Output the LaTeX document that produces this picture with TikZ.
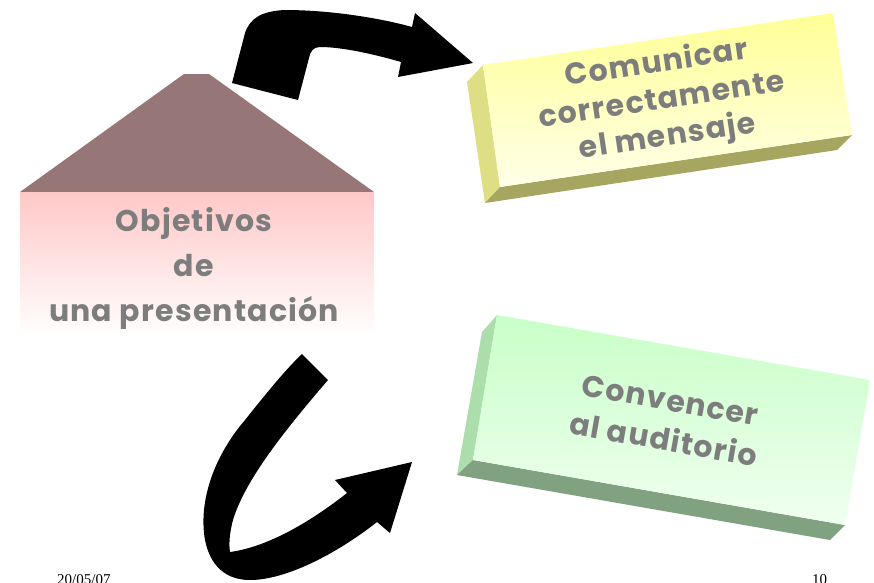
\documentclass[tikz,border=0pt]{standalone}
\usepackage{fontspec}
\setmainfont{Liberation Serif}
\newfontfamily\comicfont{Poppins}[LetterSpace=4]
\definecolor{txtgray}{RGB}{125,125,125}
\definecolor{roofc}{RGB}{150,118,118}
\definecolor{pinktop}{RGB}{255,200,200}
\definecolor{yeltop}{RGB}{255,255,150}
\definecolor{yelbot}{RGB}{255,255,232}
\definecolor{yelside}{RGB}{222,222,132}
\definecolor{yelunder}{RGB}{166,166,96}
\definecolor{grntop}{RGB}{200,255,200}
\definecolor{grnbot}{RGB}{240,255,240}
\definecolor{grnside}{RGB}{172,222,172}
\definecolor{grnunder}{RGB}{128,162,128}
\tikzset{
  labeltext/.style={text=txtgray, align=center, inner sep=0pt,
    font=\comicfont\bfseries\fontsize{30}{37}\selectfont},
  blockarrow/.style={fill=black, draw=none},
  footer/.style={inner sep=0pt, font=\fontsize{15}{15}\selectfont}
}
\begin{document}
\begin{tikzpicture}[x=1pt,y=-1pt]
\useasboundingbox (0,0) rectangle (874,582);
\clip (0,0) rectangle (874,582);
% house
\fill[roofc] (20,192) -- (184,74) -- (209,74) -- (374,192) -- cycle;
\shade[top color=pinktop, bottom color=white, draw=none] (20,192) rectangle (374,337);
\node[labeltext, font=\comicfont\bfseries\fontsize{30}{45}\selectfont] (obj) at (194,268) {Objetivos\\de\\una presentación};
% yellow box
\fill[yelside] (467,82) -- (483,65) -- (500,187) -- (485,203) -- cycle;
\fill[yelunder] (500,187) -- (852,135) -- (837,150) -- (485,203) -- cycle;
\shade[top color=yeltop, bottom color=yelbot] (483,65) -- (833,13) -- (852,135) -- (500,187) -- cycle;
\node[labeltext, rotate=8.5] (com) at (662,101) {Comunicar\\correctamente\\el mensaje};
% green box
\fill[grnside] (482,332) -- (497,315) -- (473,460) -- (457,475) -- cycle;
\fill[grnunder] (473,460) -- (845,525) -- (830,540) -- (457,475) -- cycle;
\shade[top color=grntop, bottom color=grnbot] (497,315) -- (870,380) -- (845,525) -- (473,460) -- cycle;
\node[labeltext, rotate=-10, font=\comicfont\bfseries\fontsize{30}{40}\selectfont] (conv) at (667,420) {Convencer\\al auditorio};
% top arrow
\fill[blockarrow] (232,83) -- (245,33) .. controls (250,18) and (262,11) .. (285,10)
  .. controls (330,10) and (380,18) .. (412,27) -- (415,13) -- (473,63) -- (398,77) -- (401,62)
  .. controls (370,53) and (340,47) .. (320,47) .. controls (313,47) and (310,52) .. (309,58)
  -- (298,100) -- cycle;
% bottom arrow
\fill[blockarrow] (302,354) -- (328,380) .. controls (285,430) and (245,480) .. (233,520)
  .. controls (229,535) and (229,545) .. (230,552) .. controls (260,548) and (300,530) .. (347,493)
  -- (335,480) -- (412,462) -- (390,533) -- (377,522)
  .. controls (335,555) and (285,580) .. (250,580) .. controls (225,580) and (210,565) .. (205,540)
  .. controls (198,500) and (215,455) .. (245,420) .. controls (265,395) and (285,370) .. (302,354) -- cycle;
% footer
\node[footer, anchor=base west] (date) at (57,584) {20/05/07};
\node[footer, anchor=base west] (pg) at (812,584) {10};
\end{tikzpicture}
\end{document}
